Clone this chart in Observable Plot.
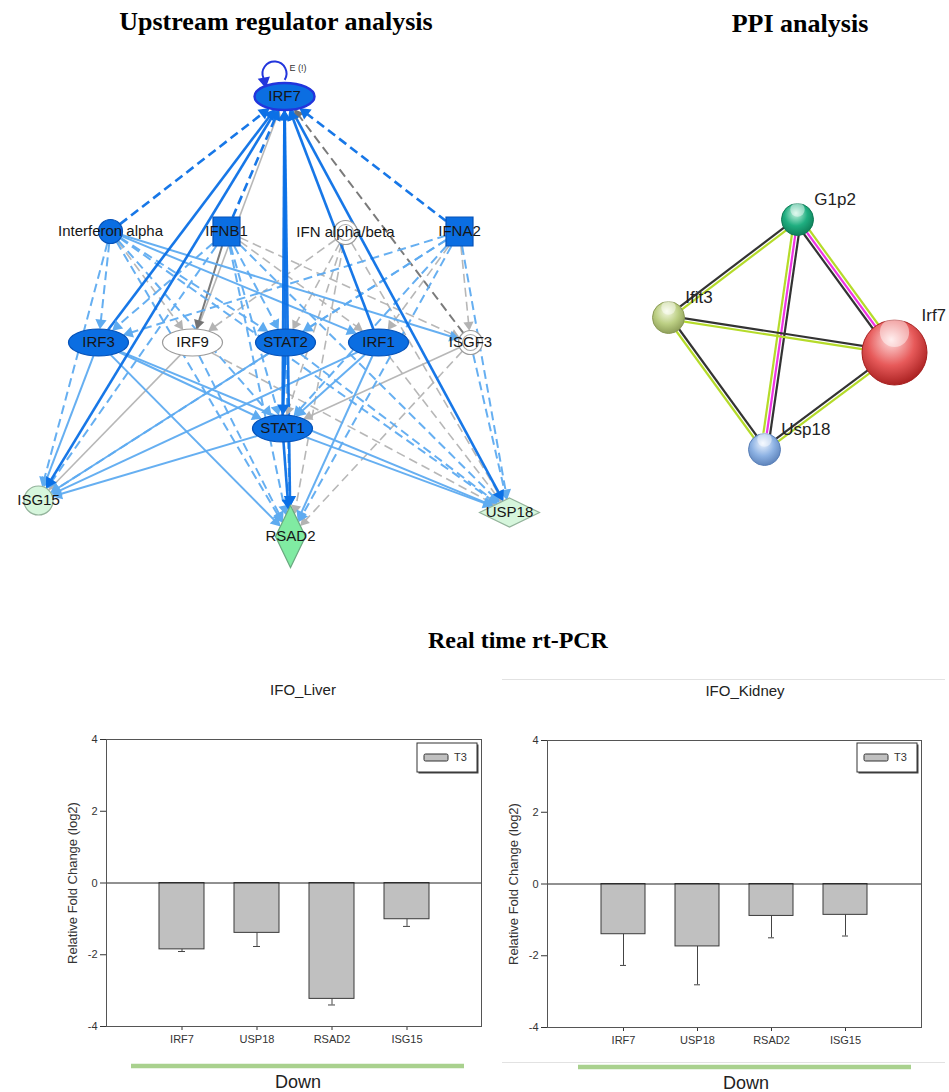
<!DOCTYPE html>
<html><head><meta charset="utf-8">
<script src="https://cdn.jsdelivr.net/npm/d3@7"></script>
<script src="https://cdn.jsdelivr.net/npm/@observablehq/plot@0.6"></script>
<style>
body{margin:0;background:#fff;}
#page{position:relative;width:949px;height:1092px;overflow:hidden;background:#fff;}
#page > svg{position:absolute;}
</style></head><body><div id="page"></div>
<script>
// ================= DATA =================
// Upstream regulator network (IPA)
const upNodes = ["IRF7","Interferon alpha","IFNB1","IFN alpha/beta","IFNA2","IRF3","IRF9","STAT2","IRF1","ISGF3","STAT1","ISG15","RSAD2","USP18"];
const upNodeX = [284,110,226,345,459,98,192,285,378,470,282,38,290,509];
const upNodeY = [96,231,231,232,231,342,342,342,342,342,428,500,536,512];
const upNodeType = ["transcription regulator","group","cytokine","complex","cytokine","transcription regulator","transcription regulator","transcription regulator","transcription regulator","complex","transcription regulator","other","enzyme","peptidase"];
const upNodeState = ["inhibited","inhibited","inhibited","none","inhibited","inhibited","none","inhibited","inhibited","none","inhibited","down","down-strong","down"];

const upEdgeFrom = ["Interferon alpha","IFNA2","IFNB1","IRF3","IRF9","STAT2","STAT1","IRF1","ISGF3",
  "IRF7","IRF7","IRF7",
  "Interferon alpha","Interferon alpha","Interferon alpha","Interferon alpha","Interferon alpha","Interferon alpha","Interferon alpha","Interferon alpha","Interferon alpha",
  "IFNB1","IFNB1","IFNB1","IFNB1","IFNB1","IFNB1","IFNB1","IFNB1","IFNB1",
  "IFN alpha/beta","IFN alpha/beta","IFN alpha/beta","IFN alpha/beta","IFN alpha/beta",
  "IFNA2","IFNA2","IFNA2","IFNA2","IFNA2","IFNA2","IFNA2","IFNA2",
  "IRF3","IRF3","IRF3","IRF3",
  "IRF9","IRF9","IRF9",
  "STAT2","STAT2","STAT2","STAT2",
  "IRF1","IRF1","IRF1","IRF1",
  "ISGF3","ISGF3","ISGF3",
  "STAT1","STAT1","STAT1"];
const upEdgeTo = ["IRF7","IRF7","IRF7","IRF7","IRF7","IRF7","IRF7","IRF7","IRF7",
  "ISG15","RSAD2","USP18",
  "IRF3","ISG15","IRF9","STAT2","STAT1","IRF1","ISGF3","RSAD2","USP18",
  "IRF3","IRF9","STAT2","STAT1","IRF1","ISGF3","ISG15","RSAD2","USP18",
  "IRF9","STAT2","STAT1","RSAD2","USP18",
  "IRF3","STAT2","STAT1","IRF1","ISGF3","ISG15","RSAD2","USP18",
  "ISG15","STAT1","RSAD2","USP18",
  "ISG15","RSAD2","USP18",
  "ISG15","STAT1","RSAD2","USP18",
  "ISG15","STAT1","RSAD2","USP18",
  "STAT1","RSAD2","USP18",
  "ISG15","RSAD2","USP18"];
const upEdgeEffect = ["activation","activation","activation","activation","unknown","activation","activation","activation","unknown-strong",
  "activation","activation","activation",
  "predicted","predicted","unknown","predicted","predicted","predicted","predicted","predicted","predicted",
  "predicted","unknown-strong","predicted","predicted","unknown","unknown","predicted","predicted","predicted",
  "unknown","unknown","unknown","unknown","unknown",
  "predicted","predicted","predicted","unknown","unknown","predicted","predicted","predicted",
  "predicted","predicted","predicted","predicted",
  "unknown","predicted","unknown",
  "predicted","activation","predicted","predicted",
  "predicted","predicted","predicted","unknown",
  "unknown","unknown","predicted",
  "predicted","activation","predicted"];
const upEdgeRelation = ["indirect","indirect","indirect","direct","direct","direct","direct","direct","indirect",
  "direct","direct","direct",
  "indirect","indirect","indirect","indirect","indirect","direct","direct","indirect","indirect",
  "indirect","direct","indirect","indirect","indirect","indirect","indirect","indirect","indirect",
  "indirect","indirect","indirect","indirect","indirect",
  "indirect","indirect","indirect","indirect","indirect","indirect","indirect","indirect",
  "direct","direct","direct","direct",
  "direct","indirect","indirect",
  "direct","direct","indirect","indirect",
  "direct","direct","direct","indirect",
  "direct","indirect","indirect",
  "direct","direct","direct"];
const upSelfLoop = ["IRF7"];

// PPI network (STRING)
const ppiNames = ["G1p2","Ifit3","Irf7","Usp18"];
const ppiX = [797,668,894,764];
const ppiY = [219,317,352,449];
const ppiHasStructure = [false,false,true,false];
const ppiFrom = ["G1p2","G1p2","G1p2","Ifit3","Ifit3","Usp18"];
const ppiTo = ["Ifit3","Irf7","Usp18","Irf7","Usp18","Irf7"];
const ppiEvidence = [["textmining","coexpression"],["textmining","experiments","coexpression"],["coexpression","experiments","textmining"],["coexpression","textmining"],["coexpression","textmining"],["coexpression","textmining"]];

// Real time rt-PCR
const genes = ["IRF7","USP18","RSAD2","ISG15"];
const liverFC = [-1.85,-1.39,-3.23,-1.01];
const liverErr = [0.06,0.38,0.17,0.20];
const kidneyFC = [-1.40,-1.74,-0.89,-0.86];
const kidneyErr = [0.87,1.07,0.61,0.59];
const yTicks = [-4,-2,0,2,4];
const seriesName = "T3";
const groupName = "Down";

// ================= STYLE / HELPERS =================
const page = document.getElementById("page");
const sans = '"Liberation Sans", Arial, sans-serif';
const serif = '"Liberation Serif", "Times New Roman", serif';
const K = 0.5523;
const sym = {
  ellipse: (a,b)=>({draw(c){c.moveTo(a,0);c.bezierCurveTo(a,K*b,K*a,b,0,b);c.bezierCurveTo(-K*a,b,-a,K*b,-a,0);c.bezierCurveTo(-a,-K*b,-K*a,-b,0,-b);c.bezierCurveTo(K*a,-b,a,-K*b,a,0);c.closePath();}}),
  rect: (w,h)=>({draw(c){c.moveTo(-w,-h);c.lineTo(w,-h);c.lineTo(w,h);c.lineTo(-w,h);c.closePath();}}),
  diamond: (w,h)=>({draw(c){c.moveTo(0,-h);c.lineTo(w,0);c.lineTo(0,h);c.lineTo(-w,0);c.closePath();}}),
  circle: (r)=>({draw(c){c.moveTo(r,0);c.arc(0,0,r,0,2*Math.PI);c.closePath();}})
};
const geom = {
  "transcription regulator": {kind:"ellipse", a:30, b:13.5},
  group: {kind:"circle", r:12},
  cytokine: {kind:"rect", w:13.5, h:14.5},
  complex: {kind:"circle", r:12},
  other: {kind:"circle", r:14.5},
  enzyme: {kind:"diamond", w:15, h:31},
  peptidase: {kind:"diamond", w:30, h:14.5}
};
function symbolFor(g){
  if (g.kind==="ellipse") return sym.ellipse(g.a,g.b);
  if (g.kind==="rect") return sym.rect(g.w,g.h);
  if (g.kind==="diamond") return sym.diamond(g.w,g.h);
  return sym.circle(g.r);
}
function boundary(g, ux, uy){
  const cx=Math.abs(ux), cy=Math.abs(uy);
  if (g.kind==="ellipse") return g.a*g.b/Math.hypot(g.b*cx, g.a*cy);
  if (g.kind==="rect") return Math.min(cx?g.w/cx:1e9, cy?g.h/cy:1e9);
  if (g.kind==="diamond") return 1/(cx/g.w+cy/g.h);
  return g.r;
}
const effectColor = {activation:"#0b70e6", predicted:"#5eabf0", unknown:"#b3b3b3", "unknown-strong":"#737373"};
const effectWidth = {activation:2.6, predicted:2, unknown:1.6, "unknown-strong":2};
const effectHead = {activation:4.6, predicted:4.2, unknown:3.8, "unknown-strong":4};
const stateFill = {inhibited:"#0b6ee2", none:"#ffffff", down:"#d6f6dc", "down-strong":"#80eba2"};
const stateStroke = {inhibited:"#0652b8", none:"#9a9a9a", down:"#93b39b", "down-strong":"#6aaa80"};

// ================= NETWORK 1 =================
const nodes = upNodes.map((n,i)=>({name:n, x:upNodeX[i], y:upNodeY[i], type:upNodeType[i], state:upNodeState[i], g:geom[upNodeType[i]]}));
const nodeBy = Object.fromEntries(nodes.map(d=>[d.name,d]));
const order = ["unknown","unknown-strong","predicted","activation"];
const edges = upEdgeFrom.map((f,i)=>{
  const s=nodeBy[f], t=nodeBy[upEdgeTo[i]];
  const dx=t.x-s.x, dy=t.y-s.y, L=Math.hypot(dx,dy), ux=dx/L, uy=dy/L;
  const rs=boundary(s.g,ux,uy), rt=boundary(t.g,ux,uy);
  const eff=upEdgeEffect[i], hr=effectHead[eff];
  const tip=2*Math.sqrt(hr*hr*Math.PI/(3*Math.sqrt(3)));
  return {eff, rel:upEdgeRelation[i], x1:s.x+ux*rs, y1:s.y+uy*rs,
    x2:t.x-ux*(rt+tip*0.9), y2:t.y-uy*(rt+tip*0.9),
    hx:t.x-ux*(rt+tip*0.95), hy:t.y-uy*(rt+tip*0.95), rot:Math.atan2(ux,-uy)*180/Math.PI};
}).sort((a,b)=>order.indexOf(a.eff)-order.indexOf(b.eff));

const edgeMarks = [];
for (const eff of order) for (const rel of ["indirect","direct"]) {
  const sub = edges.filter(e=>e.eff===eff && e.rel===rel);
  if (!sub.length) continue;
  edgeMarks.push(Plot.link(sub, {x1:"x1", y1:"y1", x2:"x2", y2:"y2", stroke:effectColor[eff], strokeWidth:effectWidth[eff], strokeDasharray: rel==="indirect" ? "9,5" : null, strokeOpacity:0.95}));
}
const headMarks = order.map(eff=>Plot.dot(edges.filter(e=>e.eff===eff), {x:"hx", y:"hy", rotate:"rot", symbol:"triangle", r:effectHead[eff], fill:effectColor[eff], stroke:null}));

const nodeMarks = [];
for (const type of Object.keys(geom)) {
  const sub = nodes.filter(d=>d.type===type);
  if (!sub.length) continue;
  nodeMarks.push(Plot.dot(sub, {x:"x", y:"y", r:10, symbol:symbolFor(geom[type]),
    fill:d=>stateFill[d.state], stroke:d=>d.name==="IRF7" ? "#2235dc" : stateStroke[d.state], strokeWidth:d=>d.name==="IRF7" ? 2.4 : 1.2}));
  if (type==="complex") nodeMarks.push(Plot.dot(sub, {x:"x", y:"y", r:10, symbol:sym.circle(8), fill:"none", stroke:"#a8a8a8", strokeWidth:1.1}));
}
// self loop
const loopNodes = upSelfLoop.map(n=>nodeBy[n]);
const loopR = 12, a0 = 0.56, a1 = 2.74;
const loopSym = {draw(c){c.moveTo(loopR*Math.cos(a0), loopR*Math.sin(a0)); c.arc(0,0,loopR,a0,a1,true);}};
const loopMarks = [
  Plot.dot(loopNodes, {x:"x", y:"y", dx:-10, dy:-23, r:10, symbol:loopSym, fill:"none", stroke:"#2235dc", strokeWidth:2}),
  Plot.dot(loopNodes, {x:"x", y:"y", dx:-10+loopR*Math.cos(a1)+1, dy:-23+loopR*Math.sin(a1)+3, r:4.6, symbol:"triangle", rotate:d=>170, fill:"#2235dc"}),
  Plot.text(loopNodes, {x:"x", y:"y", dx:5, dy:-28, text:()=>"E (!)", fontSize:9, textAnchor:"start", fill:"#333"})
];

const net = Plot.plot({
  width:560, height:590, margin:0,
  x:{domain:[0,560], range:[0,560], axis:null},
  y:{domain:[0,590], range:[0,590], axis:null},
  color:{type:"identity"},
  style:{background:"transparent", fontFamily:sans, overflow:"visible"},
  marks:[
    ...edgeMarks, ...headMarks, ...loopMarks, ...nodeMarks,
    Plot.text(nodes, {x:"x", y:"y", text:"name", fontSize:15, fill:"#161616"})
  ]
});
net.style.left="0px"; net.style.top="0px";
page.appendChild(net);

// ================= PPI =================
const ppiNodes = ppiNames.map((n,i)=>({name:n, x:ppiX[i], y:ppiY[i], r: ppiHasStructure[i] ? 32.5 : 16}));
const ppiBy = Object.fromEntries(ppiNodes.map(d=>[d.name,d]));
const evColor = {textmining:"#b5db2a", coexpression:"#333333", experiments:"#ee34e4"};
const ppiLines = ppiFrom.flatMap((f,i)=>{
  const s=ppiBy[f], t=ppiBy[ppiTo[i]], ev=ppiEvidence[i];
  const dx=t.x-s.x, dy=t.y-s.y, L=Math.hypot(dx,dy), nx=-dy/L, ny=dx/L;
  return ev.map((e,j)=>{const o=(j-(ev.length-1)/2)*3.4; return {ev:e, x1:s.x+nx*o, y1:s.y+ny*o, x2:t.x+nx*o, y2:t.y+ny*o};});
});
const sphere = {G1p2:["#c8f5e2","#1fae80","#0d7a55"], Ifit3:["#f6fae6","#bccf84","#8a9a55"], Irf7:["#ffe0e0","#e75a5a","#a51d1d"], Usp18:["#eef5ff","#8db2e3","#5a80b8"]};
const ppi = Plot.plot({
  width:369, height:330, margin:0,
  x:{domain:[580,949], range:[0,369], axis:null},
  y:{domain:[150,480], range:[0,330], axis:null},
  color:{type:"identity"}, r:{type:"identity"},
  style:{background:"transparent", fontFamily:sans, overflow:"visible"},
  marks:[
    Plot.link(ppiLines, {x1:"x1", y1:"y1", x2:"x2", y2:"y2", stroke:d=>evColor[d.ev], strokeWidth:2.2}),
    Plot.dot(ppiNodes, {x:"x", y:"y", r:"r", fill:d=>`url(#sph-${d.name})`, stroke:d=>sphere[d.name][2], strokeWidth:1}),
    Plot.dot(ppiNodes, {x:"x", y:d=>d.y-d.r*0.62, r:d=>d.r*0.45, fill:"#ffffff", fillOpacity:0.45, stroke:null}),
    Plot.text(ppiNodes, {x:d=>Math.min(d.x+d.r*1.05, 921), y:d=>d.y-d.r-4, text:"name", textAnchor:"start", fontSize:17, fill:"#222"})
  ]
});
const defs = d3.select(ppi).insert("defs", ":first-child");
for (const [n,c] of Object.entries(sphere)) {
  const g = defs.append("radialGradient").attr("id", `sph-${n}`).attr("cx","45%").attr("cy","38%").attr("r","65%").attr("fx","45%").attr("fy","30%");
  g.append("stop").attr("offset","0%").attr("stop-color",c[0]);
  g.append("stop").attr("offset","55%").attr("stop-color",c[1]);
  g.append("stop").attr("offset","100%").attr("stop-color",c[2]);
}
ppi.style.left="580px"; ppi.style.top="150px";
page.appendChild(ppi);

// ================= BAR CHARTS =================
function barChart(values, errs, o){
  const rows = genes.map((g,i)=>({gene:g, fc:values[i], low:values[i]-errs[i]}));
  return Plot.plot({
    width:o.width, height:350, marginTop:o.mt, marginBottom:24, marginLeft:o.ml, marginRight:o.mr,
    style:{fontFamily:sans, fontSize:"11px", color:"#333", background:"transparent", overflow:"visible"},
    x:{domain:genes, paddingInner:0.4, paddingOuter:0.7, label:null, tickSize:4},
    y:{domain:[-4,4], ticks:yTicks, tickFormat:d=>String(d), tickSize:6, label:null},
    marks:[
      Plot.ruleX(rows, {x:"gene", y1:"fc", y2:"low", stroke:"#444"}),
      Plot.tickY(rows, {x:"gene", y:"low", insetLeft:19, insetRight:19, stroke:"#444"}),
      Plot.barY(rows, {x:"gene", y:"fc", fill:"#c0c0c0", stroke:"#3a3a3a", strokeWidth:1}),
      Plot.ruleY([0], {stroke:"#222"}),
      Plot.frame({stroke:"#555"}),
      Plot.text(["Relative Fold Change (log2)"], {frameAnchor:"left", textAnchor:"middle", rotate:-90, dx:-34, text:d=>d, fontSize:13, fill:"#333"})
    ]
  });
}
const liver = barChart(liverFC, liverErr, {width:490, ml:106, mr:9, mt:39});
liver.style.left="0px"; liver.style.top="700px";
page.appendChild(liver);
const kidney = barChart(kidneyFC, kidneyErr, {width:470, ml:77, mr:19, mt:39});
kidney.style.left="470px"; kidney.style.top="701px";
page.appendChild(kidney);

// ================= OVERLAY TEXT / LEGENDS =================
const ov = d3.select(page).append("svg").attr("width",949).attr("height",1092).style("left","0px").style("top","0px").style("pointer-events","none");
ov.append("text").attr("x",276).attr("y",30).attr("text-anchor","middle").style("font",`bold 26px ${serif}`).attr("fill","#000").text("Upstream regulator analysis");
ov.append("text").attr("x",800).attr("y",31.5).attr("text-anchor","middle").style("font",`bold 26px ${serif}`).attr("fill","#000").text("PPI analysis");
ov.append("text").attr("x",518).attr("y",648).attr("text-anchor","middle").style("font",`bold 24px ${serif}`).attr("fill","#000").text("Real time rt-PCR");
// kidney panel edges
ov.append("line").attr("x1",502).attr("x2",945).attr("y1",679.5).attr("y2",679.5).attr("stroke","#e2e2e2");
ov.append("line").attr("x1",502).attr("x2",945).attr("y1",1062.5).attr("y2",1062.5).attr("stroke","#e2e2e2");
const panels = [{title:"IFO_Liver", tx:303, ty:695, lx:417, ly:743, gx1:131, gx2:464, gy:1066, dx:298, dy:1088},
                {title:"IFO_Kidney", tx:745, ty:696, lx:857, ly:743, gx1:578, gx2:911, gy:1067, dx:746, dy:1089}];
for (const p of panels) {
  ov.append("text").attr("x",p.tx).attr("y",p.ty).attr("text-anchor","middle").style("font",`15px ${sans}`).attr("fill","#222").text(p.title);
  ov.append("rect").attr("x",p.lx+1.5).attr("y",p.ly+1.5).attr("width",60).attr("height",29).attr("fill","#444");
  ov.append("rect").attr("x",p.lx).attr("y",p.ly).attr("width",60).attr("height",29).attr("fill","#fff").attr("stroke","#333");
  ov.append("rect").attr("x",p.lx+7).attr("y",p.ly+11).attr("width",24).attr("height",7).attr("rx",1.5).attr("fill","#c0c0c0").attr("stroke","#333");
  ov.append("text").attr("x",p.lx+37).attr("y",p.ly+18).style("font",`11px ${sans}`).attr("fill","#333").text(seriesName);
  ov.append("line").attr("x1",p.gx1).attr("x2",p.gx2).attr("y1",p.gy).attr("y2",p.gy).attr("stroke","#a9d18e").attr("stroke-width",4.5);
  ov.append("text").attr("x",p.dx).attr("y",p.dy).attr("text-anchor","middle").style("font",`18px ${sans}`).attr("fill","#222").text(groupName);
}
</script></body></html>
